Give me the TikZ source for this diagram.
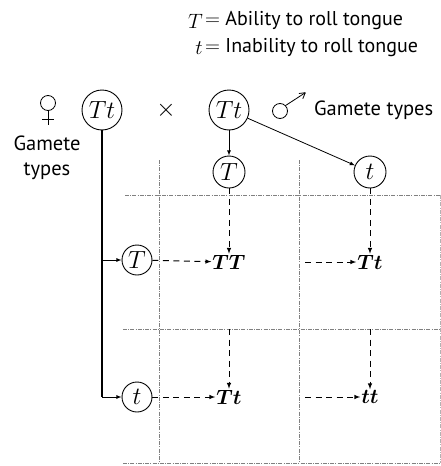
\documentclass[tikz,border=0pt]{standalone}
\usepackage{fontspec}
\setmainfont{PT Sans}
\usetikzlibrary{positioning,calc}

\begin{document}
\begin{tikzpicture}[
  x=1pt,y=-1pt,
  every node/.style={font=\fontsize{20.5}{25}\selectfont},
  allele/.style={draw,circle,line width=0.9pt,inner sep=0pt,font=\fontsize{23}{23}\selectfont},
  parent/.style={allele,minimum size=40pt},
  gamete/.style={allele,minimum size=32pt},
  geno/.style={inner sep=1pt,font=\fontsize{22}{22}\selectfont\boldmath},
  key_text/.style={anchor=west,inner sep=0pt,font=\fontsize{20}{20}\selectfont},
  key_sym/.style={anchor=east,inner sep=2pt,font=\fontsize{22}{22}\selectfont},
  sex_sign/.style={line width=0.8pt},
  cell_line/.style={gray,line width=0.5pt,dash pattern=on 4pt off 1.2pt on 1pt off 1.2pt},
  path_line/.style={line width=0.8pt,-latex},
  guide/.style={line width=1pt,dash pattern=on 6pt off 4.5pt,-latex}
  ]
  \useasboundingbox (0,0) rectangle (441,466);

  % key
  \node[key_text] (keyT) at (205,21) {$=$ Ability to roll tongue};
  \node[key_sym] (symT) at (keyT.west) {$T$};
  \node[key_text] (keyt) at (205,48) {$=$ Inability to roll tongue};
  \node[key_sym] (symt) at (keyt.west) {$t$};

  % parents
  \node[parent] (FemTt) at (102,110) {$Tt$};
  \node[parent] (MaleTt) at (229,110) {$Tt$};
  \node[font=\fontsize{24}{24}\selectfont] (cross) at (166,110) {$\times$};

  % female sign and label
  \coordinate (female) at (48,103);
  \draw[sex_sign] (female) circle (7.5pt);
  \draw[sex_sign] ($(female)+(0,7.5)$) -- ++(0,14);
  \draw[sex_sign] ($(female)+(-6,16)$) -- ++(12,0);
  \node[align=center,inner sep=0pt] (femlabel) at (47,158) {Gamete\\types};

  % male sign and label
  \coordinate (male) at (280,111);
  \draw[sex_sign] (male) circle (7.5pt);
  \draw[sex_sign] ($(male)+(5.3,-5.3)$) -- ++(20,-13) coordinate (maletip);
  \draw[sex_sign] (maletip) -- ++(-6.5,0.8) (maletip) -- ++(-2.5,6);
  \node[anchor=west,inner sep=0pt] (malelabel) at (314,110) {Gamete types};

  % gametes
  \node[gamete] (MT) at (229,172) {$T$};
  \node[gamete] (Mt) at (370,172) {$t$};
  \node[allele,minimum size=30pt] (FT) at (137,260) {$T$};
  \node[allele,minimum size=30pt] (Ft) at (137,397) {$t$};

  % offspring
  \node[geno] (TT) at (229,262) {$TT$};
  \node[geno] (Tt1) at (370,262) {$Tt$};
  \node[geno] (Tt2) at (229,397) {$Tt$};
  \node[geno] (tt) at (370,397) {$tt$};

  % punnett square
  \coordinate (RowA) at (125,195);
  \coordinate (RowB) at (123,329);
  \coordinate (RowC) at (123,463);
  \coordinate (ColA) at (159,160);
  \coordinate (ColB) at (299,160);
  \coordinate (ColC) at (440,195);
  \draw[cell_line] (RowA) -- (RowA -| ColC);
  \draw[cell_line] (RowB) -- (RowB -| ColC);
  \draw[cell_line] (RowC) -- (RowC -| ColC);
  \draw[cell_line] (ColA) -- (ColA |- RowC);
  \draw[cell_line] (ColB) -- (ColB |- RowC);
  \draw[cell_line,gray!60] (ColC) -- (ColC |- RowC);

  % male gametes
  \draw[path_line] (MaleTt) -- (MT);
  \draw[path_line] (MaleTt) -- (Mt);

  % female gametes
  \coordinate (ForkA) at (FemTt.south |- FT);
  \coordinate (ForkB) at (FemTt.south |- Ft);
  \draw[line width=1.5pt] (FemTt) -- (ForkB);
  \draw[path_line] (ForkA) -- (FT);
  \draw[path_line] (ForkB) -- (Ft);

  % fill the boxes
  \draw[guide] (MT) -- (TT);
  \draw[guide] (Mt) -- (Tt1);
  \draw[guide] (FT) -- (TT);
  \draw[guide] (Ft) -- (Tt2);
  \draw[guide] ($(Tt1 -| ColB)+(6,0)$) -- (Tt1);
  \draw[guide] ($(tt -| ColB)+(6,0)$) -- (tt);
  \draw[guide] (Tt2 |- RowB) -- (Tt2);
  \draw[guide] (tt |- RowB) -- (tt);
\end{tikzpicture}
\end{document}
